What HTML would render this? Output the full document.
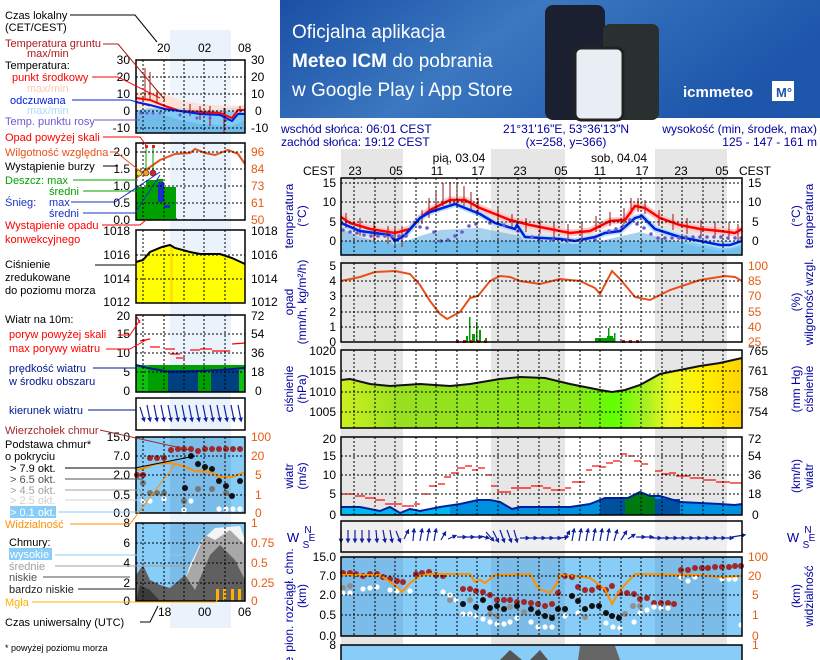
<!DOCTYPE html>
<html><head><meta charset="utf-8">
<style>
html,body{margin:0;padding:0;background:#fff;}
svg{display:block;font-family:"Liberation Sans",sans-serif;}
</style></head><body>
<svg width="820" height="660" viewBox="0 0 820 660" xmlns="http://www.w3.org/2000/svg">
<defs>
<linearGradient id="bn" x1="0" y1="0" x2="1" y2="0.3">
<stop offset="0" stop-color="#1b4fa6"/><stop offset="0.45" stop-color="#3b78c0"/><stop offset="1" stop-color="#1d56ab"/></linearGradient>
<linearGradient id="pg" x1="341" y1="0" x2="742" y2="0" gradientUnits="userSpaceOnUse">
<stop offset="0" stop-color="#cdf020"/><stop offset="0.15" stop-color="#98e020"/><stop offset="0.6" stop-color="#88e818"/><stop offset="0.68" stop-color="#60ff00"/><stop offset="0.76" stop-color="#a8f020"/><stop offset="0.82" stop-color="#f0f820"/><stop offset="0.9" stop-color="#fff000"/><stop offset="1" stop-color="#ffd400"/></linearGradient>
<marker id="ah" markerWidth="4" markerHeight="4" refX="2" refY="2" orient="auto"><path d="M0,0L4,2L0,4z" fill="#1020a0"/></marker>
</defs>

<!-- banner -->
<rect x="280" y="0" width="540" height="118" fill="url(#bn)"/>
<text x="292" y="38" fill="#fff" font-size="19">Oficjalna aplikacja</text>
<text x="292" y="67" fill="#fff" font-size="19"><tspan font-weight="bold">Meteo ICM</tspan> do pobrania</text>
<text x="292" y="96" fill="#fff" font-size="19">w Google Play i App Store</text>
<rect x="545" y="5" width="60" height="115" rx="8" fill="#1a2030"/>
<rect x="603" y="24" width="56" height="96" rx="7" fill="#2a3030"/>
<rect x="575" y="48" width="48" height="72" rx="6" fill="#e8eef4" stroke="#222" stroke-width="3"/>
<text x="683" y="97" fill="#fff" font-size="15" font-weight="bold">icmmeteo</text>
<rect x="772" y="81" width="22" height="20" fill="#fff"/><text x="776" y="97" fill="#1d56ab" font-size="13" font-weight="bold">M°</text>

<!-- header texts -->
<g fill="#0000a0" font-size="12">
<text x="281" y="133">wschód słońca: 06:01 CEST</text>
<text x="281" y="146">zachód słońca: 19:12 CEST</text>
<text x="566" y="133" text-anchor="middle">21°31'16"E, 53°36'13"N</text>
<text x="566" y="146" text-anchor="middle">(x=258, y=366)</text>
<text x="817" y="133" text-anchor="end">wysokość (min, środek, max)</text>
<text x="817" y="146" text-anchor="end">125 - 147 - 161 m</text>
</g>

<!-- night bands main -->
<g fill="#e6e6e6">
<rect x="341" y="149" width="62" height="511"/>
<rect x="491" y="149" width="74" height="511"/>
<rect x="655" y="149" width="72" height="511"/>
</g>
<g font-size="12" fill="#000">
<text x="459" y="162" text-anchor="middle">pią, 03.04</text>
<text x="619" y="162" text-anchor="middle">sob, 04.04</text>
<text x="303" y="175">CEST</text><text x="771" y="175" text-anchor="end">CEST</text>
<text x="355" y="175" text-anchor="middle">23</text><text x="396" y="175" text-anchor="middle">05</text>
<text x="437" y="175" text-anchor="middle">11</text><text x="478" y="175" text-anchor="middle">17</text>
<text x="520" y="175" text-anchor="middle">23</text><text x="561" y="175" text-anchor="middle">05</text>
<text x="600" y="175" text-anchor="middle">11</text><text x="642" y="175" text-anchor="middle">17</text>
<text x="681" y="175" text-anchor="middle">23</text><text x="722" y="175" text-anchor="middle">05</text>
</g>

<!-- TEMPERATURE panel -->
<rect x="341" y="241" width="401" height="14" fill="#80ccf4"/>
<polygon points="341,229 360,237 395,245 420,236 440,230 480,228 520,236 560,244 600,241 640,232 680,243 720,251 742,247 742,255 341,255" fill="#6ab4e4" opacity="0.6"/>
<polyline points="341,217 350,223 370,229 395,233 410,229 420,218 430,210 450,200 465,200 480,208 495,214 510,220 530,225 550,229 570,233 590,231 610,221 625,220 635,206 645,208 660,218 680,225 700,229 720,231 735,233 742,229" fill="none" stroke="#ffc8c8" stroke-width="7"/>
<polyline points="341,223 360,231 390,235 395,241 405,235 420,218 430,212 455,204 470,210 480,214 495,223 515,229 517,225 525,237 560,239 575,241 595,237 605,233 620,231 635,218 642,216 655,229 680,237 720,245 730,245 742,241" fill="none" stroke="#b8e0f8" stroke-width="6"/>
<g stroke="#a01010" stroke-width="1">
<line x1="346" y1="213" x2="346" y2="228"/><line x1="360" y1="218" x2="360" y2="236"/><line x1="374" y1="222" x2="374" y2="240"/><line x1="388" y1="226" x2="388" y2="244"/><line x1="395" y1="226" x2="395" y2="246"/><line x1="402" y1="226" x2="402" y2="247"/>
<line x1="422" y1="210" x2="422" y2="224"/><line x1="429" y1="198" x2="429" y2="218"/><line x1="436" y1="192" x2="436" y2="212"/><line x1="443" y1="183" x2="443" y2="206"/><line x1="450" y1="182" x2="450" y2="204"/><line x1="457" y1="182" x2="457" y2="204"/><line x1="464" y1="186" x2="464" y2="206"/><line x1="471" y1="192" x2="471" y2="210"/><line x1="478" y1="198" x2="478" y2="214"/>
<line x1="498" y1="208" x2="498" y2="222"/><line x1="512" y1="214" x2="512" y2="228"/><line x1="526" y1="218" x2="526" y2="232"/><line x1="540" y1="220" x2="540" y2="234"/><line x1="554" y1="222" x2="554" y2="238"/><line x1="568" y1="224" x2="568" y2="240"/><line x1="582" y1="222" x2="582" y2="238"/><line x1="596" y1="216" x2="596" y2="232"/><line x1="610" y1="212" x2="610" y2="226"/><line x1="624" y1="208" x2="624" y2="224"/><line x1="631" y1="198" x2="631" y2="214"/><line x1="638" y1="198" x2="638" y2="212"/><line x1="645" y1="200" x2="645" y2="214"/>
<line x1="659" y1="210" x2="659" y2="226"/><line x1="673" y1="214" x2="673" y2="230"/><line x1="687" y1="218" x2="687" y2="234"/><line x1="701" y1="220" x2="701" y2="236"/><line x1="715" y1="222" x2="715" y2="238"/><line x1="729" y1="222" x2="729" y2="240"/><line x1="738" y1="224" x2="738" y2="240"/>
</g>
<polyline points="341,217 350,223 370,229 395,233 410,229 420,218 430,210 450,200 465,200 480,208 495,214 510,220 530,225 550,229 570,233 590,231 610,221 625,220 635,206 645,208 660,218 680,225 700,229 720,231 735,233 742,229" fill="none" stroke="#ff0000" stroke-width="2.5"/>
<polyline points="341,223 360,231 390,235 395,241 405,235 420,218 430,212 455,204 470,210 480,214 495,223 515,229 517,225 525,237 560,239 575,241 595,237 605,233 620,231 635,218 642,216 655,229 680,237 720,245 730,245 742,241" fill="none" stroke="#0020e0" stroke-width="2.5"/>
<g fill="#6a5ad0">
<circle cx="343" cy="230" r="1.8"/><circle cx="350" cy="232" r="1.8"/><circle cx="357" cy="233" r="1.8"/><circle cx="364" cy="235" r="1.8"/><circle cx="371" cy="236" r="1.8"/><circle cx="378" cy="236" r="1.8"/><circle cx="385" cy="236" r="1.8"/><circle cx="392" cy="236" r="1.8"/><circle cx="399" cy="236" r="1.8"/><circle cx="406" cy="236" r="1.8"/><circle cx="420" cy="227" r="1.8"/><circle cx="427" cy="228" r="1.8"/><circle cx="434" cy="232" r="1.8"/><circle cx="441" cy="241" r="1.8"/><circle cx="448" cy="240" r="1.8"/><circle cx="455" cy="236" r="1.8"/><circle cx="462" cy="232" r="1.8"/><circle cx="469" cy="226" r="1.8"/><circle cx="476" cy="224" r="1.8"/><circle cx="490" cy="223" r="1.8"/><circle cx="504" cy="225" r="1.8"/><circle cx="518" cy="231" r="1.8"/><circle cx="532" cy="237" r="1.8"/><circle cx="539" cy="240" r="1.8"/><circle cx="553" cy="240" r="1.8"/><circle cx="567" cy="241" r="1.8"/><circle cx="581" cy="241" r="1.8"/><circle cx="595" cy="240" r="1.8"/><circle cx="609" cy="231" r="1.8"/><circle cx="616" cy="229" r="1.8"/><circle cx="623" cy="226" r="1.8"/><circle cx="630" cy="220" r="1.8"/><circle cx="637" cy="224" r="1.8"/><circle cx="644" cy="228" r="1.8"/><circle cx="651" cy="234" r="1.8"/><circle cx="658" cy="238" r="1.8"/><circle cx="665" cy="238" r="1.8"/><circle cx="672" cy="238" r="1.8"/><circle cx="679" cy="238" r="1.8"/><circle cx="686" cy="237" r="1.8"/><circle cx="693" cy="237" r="1.8"/><circle cx="700" cy="237" r="1.8"/><circle cx="707" cy="237" r="1.8"/><circle cx="714" cy="237" r="1.8"/><circle cx="721" cy="237" r="1.8"/><circle cx="728" cy="238" r="1.8"/><circle cx="735" cy="238" r="1.8"/><circle cx="741" cy="238" r="1.8"/>
</g>

<!-- PRECIP panel -->
<g fill="#00a000">
<rect x="466" y="336" width="2" height="6"/><rect x="469" y="317" width="1.5" height="25"/><rect x="472" y="334" width="3" height="8"/><rect x="476" y="322" width="1.5" height="20"/><rect x="479" y="330" width="2" height="12"/><rect x="485" y="338" width="2" height="4"/>
<rect x="595" y="338" width="20" height="4"/><rect x="607" y="336" width="6" height="6"/><rect x="608" y="328" width="1.5" height="14"/><rect x="614" y="333" width="1.5" height="9"/>
</g>
<g fill="#e02020"><rect x="456" y="340" width="3" height="3"/><rect x="463" y="340" width="3" height="3"/><rect x="470" y="340" width="3" height="3"/><rect x="477" y="340" width="3" height="3"/><rect x="484" y="340" width="3" height="3"/><rect x="622" y="340" width="3" height="3"/><rect x="629" y="340" width="3" height="3"/><rect x="636" y="340" width="3" height="3"/></g>
<polyline points="341,281 360,277 375,272 395,271 410,274 420,285 430,301 440,314 447,319 460,312 470,298 478,296 490,281 500,276 510,277 520,281 540,284 560,279 580,281 595,288 600,294 612,271 620,279 635,297 650,300 670,290 700,280 725,276 735,277 742,281" fill="none" stroke="#e8501a" stroke-width="2"/>

<!-- PRESSURE panel -->
<polygon points="341,380 350,379 370,384 390,386 420,384 450,386 470,384 500,379 520,377 545,378 570,384 600,390 612,392 625,390 640,385 660,374 680,370 700,366 720,363 742,358 742,428 341,428" fill="url(#pg)"/>
<polyline points="341,380 350,379 370,384 390,386 420,384 450,386 470,384 500,379 520,377 545,378 570,384 600,390 612,392 625,390 640,385 660,374 680,370 700,366 720,363 742,358" fill="none" stroke="#111" stroke-width="2"/>

<!-- WIND panel -->
<polygon points="341,507 360,507 380,511 390,507 400,513 410,509 420,511 440,507 460,504 478,500 490,500 500,502 512,509 520,507 550,507 570,507 590,504 605,498 628,498 640,492 650,496 660,496 680,502 720,504 735,505 742,504 742,515 341,515" fill="#00b8f0"/>
<polygon points="450,506 478,500 490,500 500,502 512,509 520,507 560,507 580,506 600,500 628,498 640,492 650,496 660,496 680,502 730,505 742,504 742,515 450,515" fill="#0090e0"/>
<rect x="600" y="499" width="80" height="16" fill="#0050a0"/>
<polygon points="625,498 640,492 650,496 655,496 655,515 625,515" fill="#007a10"/>
<polyline points="341,507 360,507 380,511 390,507 400,513 410,509 420,511 440,507 460,504 478,500 490,500 500,502 512,509 520,507 550,507 570,507 590,504 605,498 628,498 640,492 650,496 660,496 680,502 720,504 735,505 742,504" fill="none" stroke="#0020a0" stroke-width="2"/>
<g stroke="#ff0000" stroke-width="1.2">
<line x1="341" y1="494" x2="355" y2="494"/><line x1="355" y1="496" x2="365" y2="496"/><line x1="365" y1="498" x2="375" y2="498"/><line x1="375" y1="500" x2="385" y2="500"/><line x1="385" y1="504" x2="395" y2="504"/><line x1="395" y1="504" x2="402" y2="504"/><line x1="402" y1="506" x2="414" y2="506"/><line x1="414" y1="504" x2="420" y2="504"/><line x1="422" y1="494" x2="429" y2="494"/><line x1="429" y1="486" x2="437" y2="486"/><line x1="438" y1="484" x2="445" y2="484"/><line x1="444" y1="477" x2="451" y2="477"/><line x1="451" y1="473" x2="459" y2="473"/><line x1="457" y1="468" x2="465" y2="468"/><line x1="465" y1="466" x2="472" y2="466"/><line x1="472" y1="470" x2="478" y2="470"/><line x1="478" y1="468" x2="485" y2="468"/><line x1="486" y1="475" x2="492" y2="475"/><line x1="491" y1="486" x2="497" y2="486"/><line x1="497" y1="492" x2="511" y2="492"/><line x1="511" y1="488" x2="531" y2="488"/><line x1="531" y1="486" x2="543" y2="486"/><line x1="543" y1="488" x2="551" y2="488"/><line x1="551" y1="490" x2="565" y2="490"/><line x1="565" y1="488" x2="571" y2="488"/><line x1="572" y1="482" x2="585" y2="482"/><line x1="586" y1="470" x2="592" y2="470"/><line x1="592" y1="466" x2="599" y2="466"/><line x1="599" y1="467" x2="606" y2="467"/><line x1="606" y1="463" x2="613" y2="463"/><line x1="613" y1="461" x2="620" y2="461"/><line x1="620" y1="454" x2="627" y2="454"/><line x1="628" y1="456" x2="634" y2="456"/><line x1="634" y1="461" x2="641" y2="461"/><line x1="641" y1="464" x2="648" y2="464"/><line x1="655" y1="471" x2="662" y2="471"/><line x1="662" y1="474" x2="669" y2="474"/><line x1="669" y1="473" x2="676" y2="473"/><line x1="676" y1="476" x2="690" y2="476"/><line x1="690" y1="478" x2="703" y2="478"/><line x1="703" y1="480" x2="716" y2="480"/><line x1="716" y1="482" x2="730" y2="482"/><line x1="730" y1="483" x2="742" y2="483"/>
</g>

<!-- WIND DIRECTION panel -->
<rect x="341" y="521" width="401" height="31" fill="#fff" opacity="0.35"/>
<g stroke="#1020a0" stroke-width="1.2" marker-end="url(#ah)">
<line x1="341" y1="530" x2="341" y2="541"/><line x1="348" y1="530" x2="348" y2="541"/><line x1="355" y1="530" x2="355" y2="541"/><line x1="362" y1="530" x2="362" y2="541"/><line x1="369" y1="530" x2="369" y2="541"/><line x1="376" y1="530" x2="377" y2="541"/><line x1="383" y1="530" x2="385" y2="541"/><line x1="390" y1="530" x2="392" y2="541"/><line x1="396" y1="531" x2="400" y2="541"/>
<line x1="404" y1="539" x2="408" y2="531"/><line x1="413" y1="541" x2="414" y2="530"/><line x1="420" y1="541" x2="422" y2="530"/><line x1="427" y1="541" x2="429" y2="530"/><line x1="434" y1="541" x2="436" y2="530"/><line x1="441" y1="540" x2="445" y2="533"/><line x1="448" y1="539" x2="455" y2="536"/>
<line x1="457" y1="537" x2="465" y2="537"/><line x1="465" y1="537" x2="473" y2="537"/><line x1="473" y1="537" x2="481" y2="537"/><line x1="481" y1="536" x2="488" y2="538"/><line x1="486" y1="532" x2="493" y2="540"/><line x1="493" y1="531" x2="498" y2="541"/><line x1="500" y1="530" x2="504" y2="541"/><line x1="507" y1="530" x2="511" y2="541"/><line x1="514" y1="530" x2="517" y2="541"/>
<line x1="520" y1="538" x2="528" y2="538"/><line x1="528" y1="538" x2="536" y2="538"/><line x1="536" y1="538" x2="544" y2="538"/><line x1="544" y1="538" x2="552" y2="538"/><line x1="552" y1="538" x2="560" y2="538"/><line x1="560" y1="538" x2="567" y2="537"/><line x1="565" y1="540" x2="569" y2="532"/>
<line x1="572" y1="541" x2="574" y2="530"/><line x1="579" y1="541" x2="581" y2="530"/><line x1="586" y1="541" x2="588" y2="530"/><line x1="593" y1="541" x2="595" y2="530"/><line x1="600" y1="541" x2="602" y2="530"/><line x1="607" y1="541" x2="609" y2="530"/><line x1="614" y1="541" x2="617" y2="531"/><line x1="621" y1="540" x2="626" y2="532"/><line x1="628" y1="539" x2="634" y2="535"/>
<line x1="636" y1="537" x2="644" y2="537"/><line x1="644" y1="537" x2="652" y2="537"/><line x1="652" y1="538" x2="660" y2="538"/><line x1="660" y1="538" x2="668" y2="538"/><line x1="668" y1="538" x2="676" y2="538"/><line x1="676" y1="538" x2="684" y2="538"/><line x1="684" y1="538" x2="692" y2="538"/><line x1="692" y1="538" x2="700" y2="538"/><line x1="700" y1="538" x2="708" y2="538"/><line x1="708" y1="538" x2="716" y2="538"/><line x1="716" y1="538" x2="724" y2="538"/><line x1="724" y1="538" x2="732" y2="538"/><line x1="732" y1="537" x2="744" y2="535"/>
</g>

<!-- CLOUD panel -->
<rect x="341" y="557" width="401" height="79" fill="#88ccf8"/>
<g fill="#7cbce8"><rect x="341" y="557" width="62" height="79"/><rect x="491" y="557" width="74" height="79"/><rect x="655" y="557" width="72" height="79"/></g>
<g fill="#a02828">
<circle cx="343" cy="573" r="3"/><circle cx="350" cy="573" r="3"/><circle cx="356" cy="574" r="3"/><circle cx="363" cy="576" r="3"/><circle cx="370" cy="574" r="3"/><circle cx="377" cy="574" r="3"/><circle cx="383" cy="577" r="3"/><circle cx="390" cy="579" r="3"/><circle cx="397" cy="581" r="3"/><circle cx="403" cy="582" r="3"/><circle cx="416" cy="574" r="3"/><circle cx="422" cy="573" r="3"/><circle cx="429" cy="572" r="3"/><circle cx="436" cy="575" r="3"/><circle cx="443" cy="576" r="3"/><circle cx="463" cy="589" r="3"/><circle cx="470" cy="589" r="3"/><circle cx="476" cy="591" r="3"/><circle cx="483" cy="592" r="3"/><circle cx="490" cy="595" r="3"/><circle cx="497" cy="600" r="3"/><circle cx="504" cy="600" r="3"/><circle cx="510" cy="600" r="3"/><circle cx="517" cy="602" r="3"/><circle cx="524" cy="602" r="3"/><circle cx="531" cy="603" r="3"/><circle cx="538" cy="604" r="3"/><circle cx="545" cy="606" r="3"/><circle cx="552" cy="604" r="3"/><circle cx="558" cy="593" r="3"/><circle cx="565" cy="576" r="3"/><circle cx="572" cy="577" r="3"/><circle cx="578" cy="587" r="3"/><circle cx="585" cy="590" r="3"/><circle cx="592" cy="590" r="3"/><circle cx="599" cy="587" r="3"/><circle cx="606" cy="590" r="3"/><circle cx="612" cy="586" r="3"/><circle cx="620" cy="593" r="3"/><circle cx="627" cy="593" r="3"/><circle cx="634" cy="594" r="3"/><circle cx="640" cy="599" r="3"/><circle cx="647" cy="598" r="3"/><circle cx="654" cy="603" r="3"/><circle cx="661" cy="603" r="3"/><circle cx="668" cy="603" r="3"/><circle cx="674" cy="604" r="3"/><circle cx="681" cy="570" r="3"/><circle cx="688" cy="570" r="3"/><circle cx="695" cy="568" r="3"/><circle cx="702" cy="568" r="3"/><circle cx="708" cy="568" r="3"/><circle cx="715" cy="567" r="3"/><circle cx="722" cy="567" r="3"/><circle cx="729" cy="567" r="3"/><circle cx="735" cy="566" r="3"/><circle cx="741" cy="566" r="3"/>
</g>
<g fill="#111">
<circle cx="463" cy="604" r="3"/><circle cx="476" cy="607" r="3"/><circle cx="483" cy="600" r="3"/><circle cx="490" cy="608" r="3"/><circle cx="497" cy="606" r="3"/><circle cx="504" cy="609" r="3"/><circle cx="517" cy="606" r="3"/><circle cx="531" cy="609" r="3"/><circle cx="538" cy="613" r="3"/><circle cx="545" cy="616" r="3"/><circle cx="552" cy="618" r="3"/><circle cx="558" cy="609" r="3"/><circle cx="565" cy="609" r="3"/><circle cx="572" cy="596" r="3"/><circle cx="578" cy="601" r="3"/><circle cx="585" cy="609" r="3"/><circle cx="592" cy="606" r="3"/><circle cx="599" cy="606" r="3"/><circle cx="606" cy="613" r="3"/><circle cx="612" cy="616" r="3"/><circle cx="619" cy="618" r="3"/>
</g>
<g fill="#909090"><circle cx="343" cy="588" r="3"/><circle cx="350" cy="586" r="3"/><circle cx="470" cy="600" r="3"/><circle cx="490" cy="614" r="3"/><circle cx="497" cy="616" r="3"/><circle cx="510" cy="607" r="3"/><circle cx="524" cy="612" r="3"/><circle cx="585" cy="617" r="3"/><circle cx="625" cy="614" r="3"/><circle cx="633" cy="606" r="3"/><circle cx="640" cy="606" r="3"/><circle cx="450" cy="600" r="3"/></g>
<g fill="#fff"><circle cx="343" cy="593" r="2.6"/><circle cx="350" cy="593" r="2.6"/><circle cx="363" cy="589" r="2.6"/><circle cx="370" cy="588" r="2.6"/><circle cx="377" cy="587" r="2.6"/><circle cx="390" cy="590" r="2.6"/><circle cx="397" cy="591" r="2.6"/><circle cx="410" cy="591" r="2.6"/><circle cx="443" cy="592" r="2.6"/><circle cx="450" cy="595" r="2.6"/><circle cx="456" cy="600" r="2.6"/><circle cx="463" cy="614" r="2.6"/><circle cx="470" cy="614" r="2.6"/><circle cx="476" cy="616" r="2.6"/><circle cx="483" cy="619" r="2.6"/><circle cx="490" cy="622" r="2.6"/><circle cx="497" cy="624" r="2.6"/><circle cx="504" cy="624" r="2.6"/><circle cx="510" cy="622" r="2.6"/><circle cx="517" cy="618" r="2.6"/><circle cx="531" cy="622" r="2.6"/><circle cx="538" cy="627" r="2.6"/><circle cx="545" cy="627" r="2.6"/><circle cx="552" cy="627" r="2.6"/><circle cx="565" cy="616" r="2.6"/><circle cx="578" cy="613" r="2.6"/><circle cx="606" cy="623" r="2.6"/><circle cx="613" cy="627" r="2.6"/><circle cx="620" cy="628" r="2.6"/><circle cx="634" cy="622" r="2.6"/><circle cx="640" cy="613" r="2.6"/><circle cx="647" cy="610" r="2.6"/><circle cx="654" cy="607" r="2.6"/><circle cx="661" cy="608" r="2.6"/><circle cx="668" cy="608" r="2.6"/><circle cx="681" cy="577" r="2.6"/><circle cx="688" cy="581" r="2.6"/><circle cx="695" cy="577" r="2.6"/><circle cx="722" cy="579" r="2.6"/><circle cx="729" cy="579" r="2.6"/><circle cx="735" cy="579" r="2.6"/><circle cx="741" cy="625" r="2.6"/></g>
<polyline points="341,575 380,575 396,586 402,592 410,583 420,576 430,574 470,574 475,582 480,580 485,583 490,579 495,575 530,574 538,588 550,593 556,585 560,575 575,576 590,578 605,589 612,604 620,590 635,574 700,575 720,577 742,576" fill="none" stroke="#ff9000" stroke-width="2"/>

<!-- bottom cloud cover panel -->
<rect x="341" y="645" width="401" height="15" fill="#88ccf8"/>
<polygon points="500,660 510,650 522,660" fill="#555"/><polygon points="530,660 540,650 548,660" fill="#555"/><polygon points="578,660 580,646 615,646 620,660" fill="#666"/>

<!-- grids and frames main -->
<g stroke="#000" stroke-dasharray="2,2" stroke-width="1" fill="none">
<path d="M354,178V255M375,178V255M395,178V255M416,178V255M436,178V255M457,178V255M477,178V255M498,178V255M518,178V255M539,178V255M559,178V255M580,178V255M600,178V255M621,178V255M641,178V255M662,178V255M682,178V255M703,178V255M723,178V255"/>
<path d="M354,263V342M375,263V342M395,263V342M416,263V342M436,263V342M457,263V342M477,263V342M498,263V342M518,263V342M539,263V342M559,263V342M580,263V342M600,263V342M621,263V342M641,263V342M662,263V342M682,263V342M703,263V342M723,263V342"/>
<path d="M354,350V428M375,350V428M395,350V428M416,350V428M436,350V428M457,350V428M477,350V428M498,350V428M518,350V428M539,350V428M559,350V428M580,350V428M600,350V428M621,350V428M641,350V428M662,350V428M682,350V428M703,350V428M723,350V428"/>
<path d="M354,437V515M375,437V515M395,437V515M416,437V515M436,437V515M457,437V515M477,437V515M498,437V515M518,437V515M539,437V515M559,437V515M580,437V515M600,437V515M621,437V515M641,437V515M662,437V515M682,437V515M703,437V515M723,437V515"/>
<path d="M354,557V636M375,557V636M395,557V636M416,557V636M436,557V636M457,557V636M477,557V636M498,557V636M518,557V636M539,557V636M559,557V636M580,557V636M600,557V636M621,557V636M641,557V636M662,557V636M682,557V636M703,557V636M723,557V636"/>
<path d="M341,183H742M341,202H742M341,222H742M341,241H742"/>
<path d="M341,281H742M341,296H742M341,312H742M341,327H742"/>
<path d="M341,371H742M341,392H742M341,412H742"/>
<path d="M341,456H742M341,475H742M341,494H742"/>
<path d="M341,576H742M341,595H742M341,615H742"/>
</g>
<g stroke="#000" stroke-width="1.5" fill="none">
<rect x="341" y="178" width="401" height="77"/><rect x="341" y="263" width="401" height="79"/><rect x="341" y="350" width="401" height="78"/><rect x="341" y="437" width="401" height="78"/><rect x="341" y="521" width="401" height="31"/><rect x="341" y="557" width="401" height="79"/><rect x="341" y="645" width="401" height="20"/>
</g>

<!-- main tick labels -->
<g font-size="12" fill="#000">
<g text-anchor="end">
<text x="336" y="187">15</text><text x="336" y="206">10</text><text x="336" y="226">5</text><text x="336" y="245">0</text>
<text x="336" y="270">5</text><text x="336" y="285">4</text><text x="336" y="300">3</text><text x="336" y="316">2</text><text x="336" y="331">1</text><text x="336" y="346">0</text>
<text x="336" y="355">1020</text><text x="336" y="375">1015</text><text x="336" y="396">1010</text><text x="336" y="416">1005</text>
<text x="336" y="443">20</text><text x="336" y="460">15</text><text x="336" y="479">10</text><text x="336" y="498">5</text><text x="336" y="519">0</text>
<text x="336" y="561">15.0</text><text x="336" y="580">7.0</text><text x="336" y="599">2.0</text><text x="336" y="619">0.5</text><text x="336" y="640">0.0</text>
<text x="336" y="649">8</text>
</g>
<text x="748" y="187">15</text><text x="748" y="206">10</text><text x="752" y="226">5</text><text x="752" y="245">0</text>
<text x="748" y="355">765</text><text x="748" y="375">761</text><text x="748" y="396">758</text><text x="748" y="416">754</text>
<text x="748" y="443">72</text><text x="748" y="460">54</text><text x="748" y="479">36</text><text x="748" y="498">18</text><text x="752" y="519">0</text>
</g>
<g font-size="12" fill="#e85a10">
<text x="748" y="270">100</text><text x="748" y="285">85</text><text x="748" y="300">70</text><text x="748" y="316">55</text><text x="748" y="331">40</text><text x="748" y="346">25</text>
<text x="748" y="561">100</text><text x="748" y="580">20</text><text x="752" y="599">5</text><text x="752" y="619">1</text><text x="752" y="640">0</text><text x="752" y="649">1</text>
</g>
<!-- rotated axis titles -->
<g font-size="12" fill="#0000a0" text-anchor="middle">
<text transform="translate(293,216) rotate(-90)">temperatura</text><text transform="translate(306,216) rotate(-90)">(°C)</text>
<text transform="translate(293,302) rotate(-90)">opad</text><text transform="translate(306,302) rotate(-90)">(mm/h, kg/m²/h)</text>
<text transform="translate(293,389) rotate(-90)">ciśnienie</text><text transform="translate(306,389) rotate(-90)">(hPa)</text>
<text transform="translate(293,476) rotate(-90)">wiatr</text><text transform="translate(306,476) rotate(-90)">(m/s)</text>
<text transform="translate(293,600) rotate(-90)">pion. rozciągł. chm.</text><text transform="translate(306,596) rotate(-90)">(km)</text>
<text transform="translate(293,660) rotate(-90)">e</text>
<text transform="translate(800,216) rotate(-90)">(°C)</text><text transform="translate(813,216) rotate(-90)">temperatura</text>
<text transform="translate(800,302) rotate(-90)">(%)</text><text transform="translate(813,302) rotate(-90)">wilgotność wzgl.</text>
<text transform="translate(800,389) rotate(-90)">(mm Hg)</text><text transform="translate(813,389) rotate(-90)">ciśnienie</text>
<text transform="translate(800,476) rotate(-90)">(km/h)</text><text transform="translate(813,476) rotate(-90)">wiatr</text>
<text transform="translate(800,596) rotate(-90)">(km)</text><text transform="translate(813,596) rotate(-90)">widzialność</text>
<text x="293" y="542" font-size="13">W</text><text x="308" y="533" font-size="10">N</text><text x="306" y="548" font-size="10">S</text><text x="312" y="541" font-size="10">E</text>
<text x="793" y="542" font-size="13">W</text><text x="808" y="533" font-size="10">N</text><text x="806" y="548" font-size="10">S</text><text x="812" y="541" font-size="10">E</text>
</g>

<!-- ================= LEFT LEGEND CHART ================= -->
<rect x="170" y="30" width="61" height="598" fill="#eaf3fc"/>
<!-- temp -->
<rect x="136" y="60" width="109" height="73" fill="#fff"/>
<rect x="170" y="60" width="61" height="73" fill="#eef5fc"/>
<polygon points="136,110 160,107 190,108 220,110 245,106 245,133 136,133" fill="#80ccf4"/>
<polygon points="136,110 160,114 180,120 200,124 232,126 245,120 245,133 136,133" fill="#6ab4e4" opacity="0.7"/>
<polygon points="136,92 160,92 180,100 200,104 230,106 245,105 245,112 136,108" fill="#ffdcd0" opacity="0.8"/>
<g stroke="#a01010"><line x1="145" y1="68" x2="145" y2="98"/><line x1="150" y1="72" x2="150" y2="100"/><line x1="157" y1="90" x2="157" y2="104"/><line x1="190" y1="104" x2="190" y2="116"/><line x1="200" y1="106" x2="200" y2="120"/><line x1="210" y1="106" x2="210" y2="126"/><line x1="224" y1="108" x2="224" y2="133"/><line x1="240" y1="106" x2="240" y2="115"/></g>
<polyline points="136,98 150,100 165,106 180,111 200,112 220,113 232,118 238,110 245,110" fill="none" stroke="#f00" stroke-width="2"/>
<polyline points="136,102 150,105 165,109 180,111 200,114 220,115 232,121 238,114 245,114" fill="none" stroke="#0020e0" stroke-width="2"/>
<g fill="#6a5ad0"><circle cx="141" cy="113" r="1.5"/><circle cx="147" cy="113" r="1.5"/><circle cx="153" cy="113" r="1.5"/><circle cx="160" cy="113" r="1.5"/><circle cx="180" cy="115" r="1.5"/><circle cx="197" cy="118" r="1.5"/><circle cx="210" cy="118" r="1.5"/><circle cx="226" cy="120" r="1.5"/></g>
<!-- precip -->
<rect x="136" y="187" width="40" height="33" fill="#00a000"/><rect x="136" y="187" width="9" height="33" fill="#00a000"/>
<rect x="146" y="180" width="11" height="40" fill="#00a000"/><rect x="157" y="179" width="6" height="41" fill="#00a000"/>
<rect x="158" y="182" width="6" height="20" fill="#1830c8"/><rect x="164" y="205" width="6" height="15" fill="#00a000"/><rect x="164" y="205" width="6" height="3" fill="#1830c8"/><rect x="170" y="218" width="7" height="2" fill="#00a000"/>
<polyline points="136,178 143,172 160,160 175,154 190,153 195,149 205,153 215,155 228,150 238,154 245,164" fill="none" stroke="#e8501a" stroke-width="2"/>
<g stroke="#00a000"><line x1="146" y1="148" x2="146" y2="176"/><line x1="153" y1="148" x2="153" y2="176"/></g>
<g fill="#e02020"><rect x="145" y="145" width="3" height="3"/><rect x="152" y="145" width="3" height="3"/></g>
<circle cx="139" cy="173" r="3" fill="#f0e020" stroke="#333" stroke-width="0.6"/><circle cx="146" cy="173" r="3" fill="#f0a020" stroke="#333" stroke-width="0.6"/><circle cx="153" cy="173" r="3" fill="#e02020" stroke="#333" stroke-width="0.6"/>
<!-- pressure -->
<polygon points="136,262 143,260 150,252 162,247 170,245 175,248 190,252 200,254 220,254 232,258 245,264 245,303 136,303" fill="#ffff00"/>
<rect x="170" y="245" width="3" height="58" fill="#ffd000" opacity="0.6"/>
<polyline points="136,262 143,260 150,252 162,247 170,245 175,248 190,252 200,254 220,254 232,258 245,264" fill="none" stroke="#000" stroke-width="2"/>
<!-- wind -->
<rect x="136" y="365" width="109" height="27" fill="#00a000"/><rect x="136" y="365" width="12" height="27" fill="#10c010"/>
<rect x="168" y="370" width="30" height="22" fill="#004080"/><rect x="211" y="370" width="28" height="22" fill="#004080"/><rect x="239" y="368" width="6" height="24" fill="#10c010"/>
<polyline points="136,365 148,368 170,372 198,371 220,370 245,368" fill="none" stroke="#001890" stroke-width="2"/>
<g stroke="#f00" stroke-width="1.2"><line x1="137" y1="317" x2="140" y2="323"/><line x1="140" y1="341" x2="150" y2="339"/><line x1="150" y1="347" x2="160" y2="347"/><line x1="165" y1="349" x2="175" y2="349"/><line x1="170" y1="354" x2="180" y2="354"/><line x1="176" y1="358" x2="185" y2="358"/><line x1="190" y1="350" x2="200" y2="350"/><line x1="200" y1="349" x2="212" y2="349"/><line x1="212" y1="351" x2="230" y2="351"/><line x1="232" y1="344" x2="245" y2="343"/></g>
<!-- wind dir -->
<g stroke="#1020a0" stroke-width="1.2" marker-end="url(#ah)">
<line x1="140" y1="407" x2="144" y2="420"/><line x1="147" y1="405" x2="150" y2="420"/><line x1="154" y1="405" x2="157" y2="420"/><line x1="161" y1="405" x2="164" y2="420"/><line x1="168" y1="405" x2="171" y2="420"/><line x1="175" y1="405" x2="178" y2="420"/><line x1="182" y1="405" x2="185" y2="420"/><line x1="189" y1="405" x2="192" y2="420"/><line x1="196" y1="405" x2="199" y2="420"/><line x1="203" y1="405" x2="206" y2="420"/><line x1="210" y1="405" x2="213" y2="420"/><line x1="217" y1="405" x2="220" y2="420"/><line x1="224" y1="405" x2="227" y2="420"/><line x1="231" y1="405" x2="234" y2="420"/><line x1="238" y1="405" x2="241" y2="420"/>
</g>
<!-- cloud base -->
<rect x="136" y="437" width="109" height="76" fill="#88ccf8"/><rect x="170" y="437" width="61" height="76" fill="#7cbce8"/>
<g fill="#a02828"><circle cx="150" cy="458" r="3"/><circle cx="157" cy="458" r="3"/><circle cx="164" cy="458" r="3"/><circle cx="137" cy="475" r="3"/><circle cx="143" cy="475" r="3"/><circle cx="171" cy="450" r="3"/><circle cx="178" cy="449" r="3"/><circle cx="184" cy="449" r="3"/><circle cx="191" cy="449" r="3"/><circle cx="198" cy="451" r="3"/><circle cx="205" cy="449" r="3"/><circle cx="212" cy="449" r="3"/><circle cx="219" cy="449" r="3"/><circle cx="226" cy="449" r="3"/><circle cx="233" cy="449" r="3"/><circle cx="240" cy="449" r="3"/></g>
<g fill="#111"><circle cx="191" cy="456" r="3"/><circle cx="198" cy="464" r="3"/><circle cx="205" cy="467" r="3"/><circle cx="212" cy="469" r="3"/><circle cx="219" cy="481" r="3"/><circle cx="226" cy="486" r="3"/><circle cx="240" cy="481" r="3"/><circle cx="185" cy="488" r="3"/><circle cx="232" cy="496" r="3"/></g>
<g fill="#777"><circle cx="143" cy="483" r="3"/><circle cx="150" cy="493" r="3"/><circle cx="157" cy="493" r="3"/><circle cx="164" cy="493" r="3"/><circle cx="184" cy="501" r="3"/><circle cx="198" cy="489" r="3"/><circle cx="212" cy="489" r="3"/><circle cx="226" cy="493" r="3"/></g>
<g fill="#fff"><circle cx="143" cy="501" r="2.6"/><circle cx="150" cy="501" r="2.6"/><circle cx="164" cy="499" r="2.6"/><circle cx="191" cy="501" r="2.6"/><circle cx="219" cy="509" r="2.6"/><circle cx="226" cy="509" r="2.6"/><circle cx="233" cy="509" r="2.6"/><circle cx="240" cy="509" r="2.6"/><circle cx="184" cy="510" r="2.6"/></g>
<polyline points="136,470 145,468 155,464 170,463 180,465 195,471 210,472 220,477 232,477 245,472" fill="none" stroke="#ff9000" stroke-width="2"/>
<!-- cloud cover -->
<rect x="136" y="523" width="109" height="78" fill="#88ccf8"/><rect x="170" y="523" width="61" height="78" fill="#7cbce8"/>
<polygon points="178,601 190,565 202,540 215,528 240,526 245,540 245,601" fill="#f4f4f4"/>
<polygon points="175,601 185,580 196,555 205,535 215,540 230,530 245,545 245,601" fill="#a8a8a8"/>
<polygon points="136,601 136,575 143,565 150,580 160,585 170,588 185,575 195,590 210,555 220,545 235,560 245,580 245,601" fill="#606060"/>
<polygon points="136,601 140,585 150,590 160,601" fill="#3a3a3a"/>
<g fill="#ffb000"><rect x="216" y="589" width="3" height="12"/><rect x="223" y="589" width="3" height="12"/><rect x="231" y="589" width="3" height="12"/><rect x="238" y="589" width="3" height="12"/></g>

<!-- left grids/frames -->
<g stroke="#000" stroke-dasharray="2,2" fill="none">
<path d="M143,60V133M164,60V133M184,60V133M204,60V133M225,60V133M136,77H245M136,94H245M136,111H245M136,128H245"/>
<path d="M143,143V220M164,143V220M184,143V220M204,143V220M225,143V220M136,152H245M136,169H245M136,186H245M136,203H245"/>
<path d="M143,230V303M164,230V303M184,230V303M204,230V303M225,230V303M136,255H245M136,279H245"/>
<path d="M143,315V392M164,315V392M184,315V392M204,315V392M225,315V392M136,334H245M136,353H245M136,372H245"/>
<path d="M143,437V513M164,437V513M184,437V513M204,437V513M225,437V513M136,456H245M136,475H245M136,495H245"/>
<path d="M143,523V601M164,523V601M184,523V601M204,523V601M225,523V601M136,543H245M136,563H245M136,583H245"/>
</g>
<g stroke="#000" stroke-width="1.5" fill="none">
<rect x="136" y="60" width="109" height="73"/><rect x="136" y="143" width="109" height="77"/><rect x="136" y="230" width="109" height="73"/><rect x="136" y="315" width="109" height="77"/><rect x="136" y="398" width="109" height="32"/><rect x="136" y="437" width="109" height="76"/><rect x="136" y="523" width="109" height="78"/>
</g>

<!-- left tick labels -->
<g font-size="12" fill="#000" text-anchor="end">
<text x="130" y="64">30</text><text x="130" y="81">20</text><text x="130" y="98">10</text><text x="130" y="115">0</text><text x="130" y="132">-10</text>
<text x="130" y="156">2.0</text><text x="130" y="173">1.5</text><text x="130" y="190">1.0</text><text x="130" y="207">0.5</text><text x="130" y="224">0.0</text>
<text x="130" y="235">1018</text><text x="130" y="259">1016</text><text x="130" y="283">1014</text><text x="130" y="306">1012</text>
<text x="130" y="320">20</text><text x="130" y="338">15</text><text x="130" y="357">10</text><text x="130" y="376">5</text><text x="130" y="395">0</text>
<text x="130" y="441">15.0</text><text x="130" y="460">7.0</text><text x="130" y="479">2.0</text><text x="130" y="499">0.5</text><text x="130" y="517">0.0</text>
<text x="130" y="527">8</text><text x="130" y="547">6</text><text x="130" y="567">4</text><text x="130" y="587">2</text><text x="130" y="605">0</text>
</g>
<g font-size="12" fill="#000">
<text x="251" y="64">30</text><text x="251" y="81">20</text><text x="251" y="98">10</text><text x="255" y="115">0</text><text x="251" y="132">-10</text>
<text x="251" y="235">1018</text><text x="251" y="259">1016</text><text x="251" y="283">1014</text><text x="251" y="306">1012</text>
<text x="251" y="320">72</text><text x="251" y="338">54</text><text x="251" y="357">36</text><text x="251" y="376">18</text><text x="255" y="395">0</text>
<text x="157" y="52">20</text><text x="198" y="52">02</text><text x="238" y="52">08</text>
<text x="158" y="616">18</text><text x="198" y="616">00</text><text x="238" y="616">06</text>
</g>
<g font-size="12" fill="#e85a10">
<text x="251" y="156">96</text><text x="251" y="173">84</text><text x="251" y="190">73</text><text x="251" y="207">61</text><text x="251" y="224">50</text>
<text x="251" y="441">100</text><text x="251" y="460">20</text><text x="255" y="479">5</text><text x="255" y="499">1</text><text x="255" y="517">0</text>
<text x="251" y="527">1</text><text x="251" y="547">0.75</text><text x="251" y="567">0.5</text><text x="251" y="587">0.25</text><text x="251" y="605">0</text>
</g>

<!-- left legend labels -->
<g font-size="11">
<text x="5" y="19" fill="#000">Czas lokalny</text><text x="5" y="31" fill="#000">(CET/CEST)</text>
<text x="5" y="47" fill="#b01818">Temperatura gruntu</text><text x="27" y="57" fill="#b01818">max/min</text>
<text x="5" y="69" fill="#000">Temperatura:</text>
<text x="12" y="81" fill="#f00">punkt środkowy</text>
<text x="27" y="92" fill="#ffc8b8">max/min</text>
<text x="10" y="104" fill="#0020e0">odczuwana</text>
<text x="27" y="114" fill="#a8dcf8">max/min</text>
<text x="5" y="125" fill="#6a5ad0">Temp. punktu rosy</text>
<text x="5" y="141" fill="#f00">Opad powyżej skali</text>
<text x="5" y="156" fill="#e8501a">Wilgotność względna</text>
<text x="5" y="170" fill="#000">Wystąpienie burzy</text>
<text x="5" y="184" fill="#00a000">Deszcz: max</text>
<text x="49" y="195" fill="#00a000">średni</text>
<text x="5" y="206" fill="#1830c8">Śnieg:</text><text x="49" y="206" fill="#1830c8">max</text>
<text x="49" y="217" fill="#1830c8">średni</text>
<text x="5" y="229" fill="#f00">Wystąpienie opadu</text><text x="5" y="243" fill="#f00">konwekcyjnego</text>
<text x="5" y="268" fill="#000">Ciśnienie</text><text x="5" y="281" fill="#000">zredukowane</text><text x="5" y="294" fill="#000">do poziomu morza</text>
<text x="5" y="323" fill="#000">Wiatr na 10m:</text>
<text x="9" y="338" fill="#f00">poryw powyżej skali</text>
<text x="9" y="352" fill="#f00">max porywy wiatru</text>
<text x="9" y="372" fill="#001890">prędkość wiatru</text>
<text x="9" y="385" fill="#001890">w środku obszaru</text>
<text x="9" y="414" fill="#001890">kierunek wiatru</text>
<text x="5" y="434" fill="#a02828">Wierzchołek chmur</text>
<text x="5" y="448" fill="#000">Podstawa chmur*</text><text x="5" y="460" fill="#000">o pokryciu</text>
<text x="10" y="472" fill="#000">&gt; 7.9 okt.</text>
<text x="10" y="483" fill="#505050">&gt; 6.5 okt.</text>
<text x="10" y="494" fill="#a0a0a0">&gt; 4.5 okt.</text>
<text x="10" y="504" fill="#d0d0d0">&gt; 2.5 okt.</text>
<rect x="10" y="506" width="46" height="12" fill="#88ccf8"/><text x="10" y="516" fill="#fff">&gt; 0.1 okt.</text>
<text x="5" y="528" fill="#ff9000">Widzialność</text>
<text x="9" y="546" fill="#000">Chmury:</text>
<rect x="9" y="548" width="43" height="12" fill="#88ccf8"/><text x="10" y="558" fill="#fff">wysokie</text>
<text x="9" y="570" fill="#a0a0a0">średnie</text>
<text x="9" y="581" fill="#505050">niskie</text>
<text x="9" y="593" fill="#222">bardzo niskie</text>
<text x="5" y="606" fill="#ffb000">Mgła</text>
<text x="5" y="626" fill="#000">Czas uniwersalny (UTC)</text>
<text x="5" y="651" fill="#000" font-size="9">* powyżej poziomu morza</text>
</g>
<!-- leader lines -->
<g fill="none" stroke-width="1">
<polyline points="70,15 135,15 157,42" stroke="#000"/>
<polyline points="103,44 118,44 165,100" stroke="#b01818"/>
<polyline points="92,77 118,77 160,98" stroke="#f00"/>
<polyline points="72,100 130,100 150,106" stroke="#0020e0"/>
<polyline points="95,120 140,120" stroke="#6a5ad0"/>
<polyline points="103,137 140,137 146,145" stroke="#f00"/>
<polyline points="110,152 116,152 145,175" stroke="#e8501a"/>
<polyline points="103,166 118,166" stroke="#000"/>
<polyline points="73,180 138,180" stroke="#00a000"/>
<polyline points="83,191 140,191" stroke="#00a000"/>
<polyline points="71,202 115,202 160,172" stroke="#1830c8"/>
<polyline points="83,213 135,213 160,175" stroke="#1830c8"/>
<polyline points="102,225 140,225 146,220" stroke="#f00"/>
<polyline points="95,265 136,265" stroke="#000"/>
<polyline points="118,335 130,335 140,320" stroke="#f00"/>
<polyline points="106,349 130,349 146,340" stroke="#f00"/>
<polyline points="93,368 136,368" stroke="#001890"/>
<polyline points="88,410 136,410" stroke="#001890"/>
<polyline points="100,430 190,450" stroke="#a02828"/>
<polyline points="65,468 135,468 195,456" stroke="#000"/>
<polyline points="65,479 143,479" stroke="#505050"/>
<polyline points="65,490 140,490 145,501" stroke="#a0a0a0"/>
<polyline points="65,500 140,500" stroke="#d0d0d0"/>
<polyline points="58,512 140,512" stroke="#88ccf8"/>
<polyline points="70,524 130,524 176,463" stroke="#ff9000"/>
<polyline points="55,555 185,555" stroke="#88ccf8"/>
<polyline points="55,566 190,566" stroke="#a0a0a0"/>
<polyline points="43,577 130,577" stroke="#505050"/>
<polyline points="78,589 136,589" stroke="#222"/>
<polyline points="32,602 216,602 218,598" stroke="#ffb000"/>
<polyline points="140,622 150,622 158,606" stroke="#000"/>
</g>
</svg>
</body></html>
